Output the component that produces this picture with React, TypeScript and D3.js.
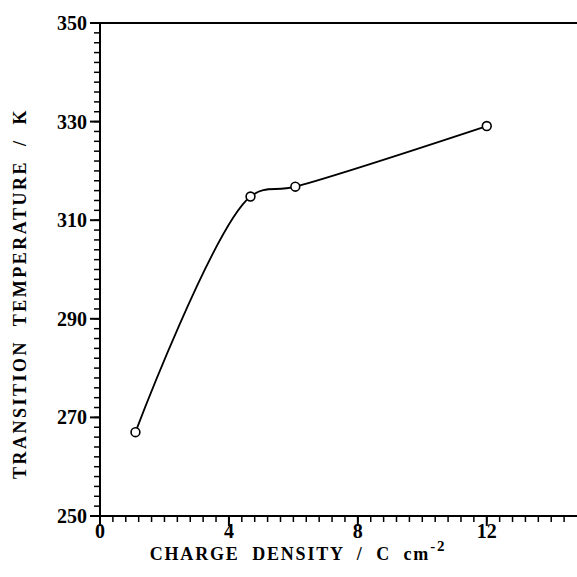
import React from 'react'
import * as d3 from 'd3'

const chargeDensity = [1.1, 4.67, 6.06, 12.0]
const transitionTemp = [267, 314.8, 316.8, 329.1]
const xTicks = [0, 4, 8, 12]
const yTicks = [250, 270, 290, 310, 330, 350]

const W = 577, H = 577
const margin = { left: 100, top: 23, right: 0, bottom: 61 }
const font = '"Liberation Serif", "Times New Roman", serif'

const App = () => {
    const x = d3.scaleLinear().domain([0, 14.8]).range([margin.left, W - margin.right])
    const y = d3.scaleLinear().domain([250, 350]).range([H - margin.bottom, margin.top])

    const pts: [number, number][] = chargeDensity.map((d, i) => [x(d), y(transitionTemp[i])])
    const line = d3.line().curve(d3.curveCatmullRom.alpha(0.5))

    // minor ticks: every 0.4 on x, every 2 on y
    const xMinor = d3.range(0, 14.8, 0.4)
    const yMinor = d3.range(250, 351, 2)
    const x0 = x(0), yb = y(250)

    return (
        <svg width={W} height={H} style={{ position: 'absolute', left: 0, top: 0, background: '#fff' }}>
            {/* frame */}
            <line x1={x0} x2={W} y1={y(350)} y2={y(350)} stroke="#000" strokeWidth={2} />
            <line x1={x0} x2={x0} y1={y(350)} y2={yb} stroke="#000" strokeWidth={2} />
            <line x1={x0} x2={W} y1={yb} y2={yb} stroke="#000" strokeWidth={2} />

            {xMinor.map(t => (
                <line key={'xm' + t} x1={x(t)} x2={x(t)} y1={yb} y2={yb + 6} stroke="#000" strokeWidth={1.5} />
            ))}
            {xTicks.map(t => (
                <g key={'x' + t}>
                    <line x1={x(t)} x2={x(t)} y1={yb} y2={yb + 10} stroke="#000" strokeWidth={2} />
                    <text x={x(t)} y={yb + 22} textAnchor="middle" fontFamily={font} fontWeight="bold" fontSize={20}>{t}</text>
                </g>
            ))}

            {yMinor.map(t => (
                <line key={'ym' + t} x1={x0 - 6} x2={x0} y1={y(t)} y2={y(t)} stroke="#000" strokeWidth={1.5} />
            ))}
            {yTicks.map(t => (
                <g key={'y' + t}>
                    <line x1={x0 - 10} x2={x0} y1={y(t)} y2={y(t)} stroke="#000" strokeWidth={2} />
                    <text x={x0 - 13} y={y(t) + 7} textAnchor="end" fontFamily={font} fontWeight="bold" fontSize={20}>{t}</text>
                </g>
            ))}

            <path d={line(pts) || ''} fill="none" stroke="#000" strokeWidth={1.8} />
            {pts.map((p, i) => (
                <circle key={i} cx={p[0]} cy={p[1]} r={4.4} fill="#fff" stroke="#000" strokeWidth={1.6} />
            ))}

            <text x={298} y={560} textAnchor="middle" fontFamily={font} fontWeight="bold" fontSize={18}
                letterSpacing={1.8} style={{ whiteSpace: 'pre' }}>
                {'CHARGE  DENSITY  /  C  cm'}
                <tspan dy={-9} fontSize={15}>-2</tspan>
            </text>
            <text transform={`translate(26, ${(y(250) + y(350)) / 2 + 24}) rotate(-90)`} textAnchor="middle"
                fontFamily={font} fontWeight="bold" fontSize={18} letterSpacing={2.5} style={{ whiteSpace: 'pre' }}>
                {'TRANSITION  TEMPERATURE  /  K'}
            </text>
        </svg>
    )
}

export default App
